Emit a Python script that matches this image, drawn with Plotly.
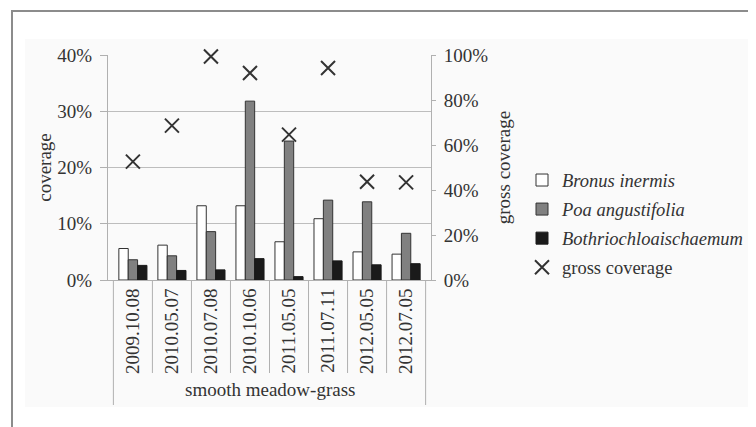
import plotly.graph_objects as go

dates = ["2009.10.08", "2010.05.07", "2010.07.08", "2010.10.06",
         "2011.05.05", "2011.07.11", "2012.05.05", "2012.07.05"]
group_label = "smooth meadow-grass"
bromus = [5.6, 6.2, 13.2, 13.2, 6.8, 10.9, 5.0, 4.6]
poa = [3.6, 4.3, 8.6, 31.8, 24.7, 14.2, 13.9, 8.3]
bothrio = [2.6, 1.7, 1.8, 3.8, 0.6, 3.4, 2.7, 2.9]
gross = [52.6, 68.6, 99.3, 92.0, 64.6, 94.2, 43.7, 43.4]

FONT = "Liberation Serif, Times New Roman, serif"
FS = 19
TXT = "#333333"
OFF = 8                     # page body margin of the html output
W, H = 756 - OFF, 427 - OFF
L, R, T, B = 108, 431, 55, 280  # plot area in screen pixels


def px_x(p):
    return (p - L) / (R - L)


def px_y(p):
    return (B - p) / (B - T)


fig = go.Figure()
fig.add_trace(go.Bar(x=dates, y=[v / 100 for v in bromus], name="<i>Bronus inermis</i>",
                     marker=dict(color="#ffffff", line=dict(color="#333333", width=1)),
                     legendgroup="a"))
fig.add_trace(go.Bar(x=dates, y=[v / 100 for v in poa], name="<i>Poa angustifolia</i>",
                     marker=dict(color="#808080", line=dict(color="#333333", width=1)),
                     legendgroup="b"))
fig.add_trace(go.Bar(x=dates, y=[v / 100 for v in bothrio], name="<i>Bothriochloaischaemum</i>",
                     marker=dict(color="#1a1a1a", line=dict(color="#1a1a1a", width=1)),
                     legendgroup="c"))
fig.add_trace(go.Scatter(x=dates, y=[v / 100 for v in gross], name="gross coverage",
                         mode="markers", yaxis="y2", legendgroup="d", cliponaxis=False,
                         marker=dict(symbol="x-thin", size=14,
                                     line=dict(color="#333333", width=2))))

shapes = [
    # outer frame
    dict(type="rect", xref="paper", yref="paper", layer="below",
         x0=px_x(12), x1=px_x(800), y0=px_y(460), y1=px_y(11),
         line=dict(color="#8c8c8c", width=2), fillcolor="#ffffff"),
    # light inner panel
    dict(type="rect", xref="paper", yref="paper", layer="below",
         x0=px_x(25), x1=px_x(800), y0=px_y(407), y1=px_y(39),
         line=dict(width=0), fillcolor="#fafafa"),
]
n = len(dates)
for i in range(n + 1):
    edge = i == 0 or i == n
    shapes.append(dict(type="line", xref="x", yref="paper",
                       x0=i - 0.5, x1=i - 0.5, y0=0,
                       y1=px_y(405) if edge else px_y(373),
                       line=dict(color="#b0b0b0", width=1)))

fig.update_layout(
    width=W, height=H,
    margin=dict(l=L - OFF, r=W - (R - OFF), t=T - OFF, b=H - (B - OFF), pad=0,
                autoexpand=False),
    paper_bgcolor="#ffffff",
    plot_bgcolor="rgba(0,0,0,0)",
    font=dict(family=FONT, size=FS, color=TXT),
    barmode="group", bargap=0.28, bargroupgap=0,
    showlegend=True,
    legend=dict(x=px_x(522), y=px_y(224), xanchor="left", yanchor="middle",
                bgcolor="rgba(0,0,0,0)", tracegroupgap=2,
                font=dict(family=FONT, size=18.5, color=TXT)),
    shapes=shapes,
    annotations=[dict(text=group_label, xref="paper", yref="paper",
                      x=0.5, y=px_y(389), xanchor="center", yanchor="middle",
                      showarrow=False, font=dict(family=FONT, size=FS, color=TXT))],
    xaxis=dict(type="category", tickangle=-90, showgrid=False, automargin=False,
               showline=True, linecolor="#b0b0b0", ticks="",
               tickfont=dict(family=FONT, size=FS, color=TXT)),
    yaxis=dict(range=[0, 0.4], dtick=0.1, tickformat=".0%", automargin=False,
               showgrid=True, gridcolor="#bdbdbd", gridwidth=1,
               showline=True, linecolor="#b0b0b0", ticks="outside",
               ticklen=7, tickcolor="#b0b0b0", zeroline=False,
               ticklabelstandoff=4,
               title=dict(text="coverage", standoff=0,
                          font=dict(family=FONT, size=FS, color=TXT))),
    yaxis2=dict(range=[0, 1], dtick=0.2, tickformat=".0%", overlaying="y",
                automargin=False,
                side="right", showgrid=False, showline=True, linecolor="#b0b0b0",
                ticks="outside", ticklen=4, tickcolor="#b0b0b0", zeroline=False,
                ticklabelstandoff=4,
                title=dict(text="gross coverage", standoff=9,
                           font=dict(family=FONT, size=FS, color=TXT))),
)

fig.write_html("out.html")
